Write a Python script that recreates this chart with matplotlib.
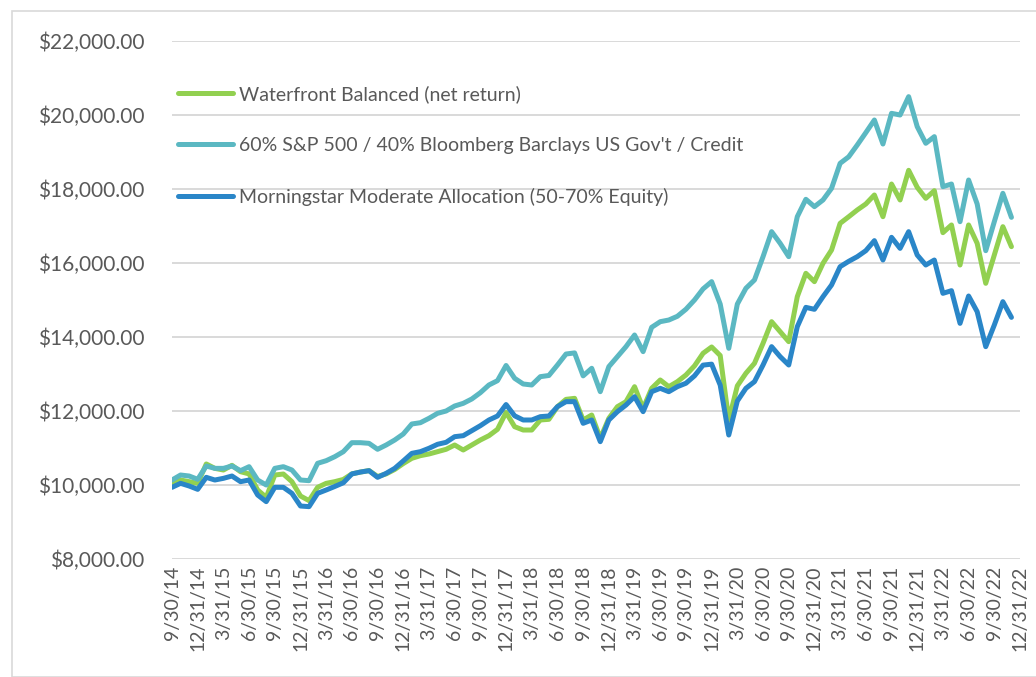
import numpy as np
import matplotlib.pyplot as plt
from matplotlib.patches import Rectangle

# Growth of $10,000, month-end values
waterfront = [
    10050, 10135, 10090, 10045, 10568, 10450, 10405, 10532, 10360, 10300,
    9865, 9667, 10270, 10297, 10090, 9703, 9577, 9937, 10045, 10090,
    10150, 10300, 10350, 10390, 10230, 10300, 10420, 10580, 10721, 10793,
    10838, 10901, 10965, 11081, 10946, 11081, 11216, 11333, 11505, 11960,
    11576, 11486, 11486, 11757, 11775, 12117, 12315, 12342, 11757, 11892,
    11262, 11802, 12117, 12252, 12657, 12072, 12613, 12838, 12657, 12793,
    12973, 13220, 13560, 13730, 13500, 11750, 12680, 13019, 13289, 13829,
    14414, 14144, 13874, 15090, 15721, 15496, 15991, 16351, 17072, 17250,
    17433, 17595, 17838, 17252, 18135, 17703, 18505, 18045, 17748, 17955,
    16820, 17028, 15946, 17028, 16532, 15451, 16216, 16982, 16442,
]
sixty_forty = [
    10135, 10270, 10243, 10154, 10513, 10450, 10450, 10513, 10387, 10495,
    10135, 10000, 10450, 10495, 10405, 10135, 10117, 10586, 10657, 10765,
    10900, 11144, 11144, 11126, 10965, 11081, 11216, 11378, 11649, 11684,
    11802, 11937, 12000, 12135, 12207, 12325, 12495, 12703, 12820, 13230,
    12884, 12730, 12703, 12928, 12960, 13243, 13540, 13570, 12950, 13154,
    12522, 13199, 13469, 13739, 14054, 13604, 14262, 14414, 14459, 14560,
    14750, 15000, 15300, 15496, 14890, 13694, 14890, 15316, 15541, 16171,
    16847, 16532, 16171, 17252, 17722, 17523, 17703, 18018, 18694, 18870,
    19189, 19523, 19865, 19216, 20045, 20000, 20496, 19685, 19235, 19415,
    18063, 18135, 17117, 18243, 17595, 16333, 17117, 17883, 17234,
]
morningstar = [
    9937, 10045, 9973, 9883, 10207, 10135, 10180, 10243, 10090, 10135,
    9730, 9550, 9937, 9937, 9775, 9432, 9415, 9775, 9865, 9960,
    10060, 10300, 10350, 10387, 10207, 10315, 10450, 10650, 10856, 10901,
    10992, 11100, 11154, 11306, 11333, 11468, 11603, 11757, 11865, 12175,
    11870, 11757, 11757, 11847, 11865, 12117, 12252, 12252, 11667, 11757,
    11171, 11757, 11982, 12162, 12387, 11982, 12522, 12613, 12522, 12657,
    12750, 12950, 13240, 13266, 12700, 11351, 12270, 12613, 12793, 13243,
    13739, 13469, 13243, 14279, 14801, 14748, 15090, 15406, 15901, 16045,
    16171, 16333, 16604, 16081, 16694, 16396, 16847, 16216, 15946, 16081,
    15180, 15252, 14369, 15108, 14684, 13739, 14324, 14955, 14531,
]

# Quarter-end labels shown on the category axis (every 3rd month)
quarter_labels = [
    "9/30/14", "12/31/14", "3/31/15", "6/30/15", "9/30/15", "12/31/15",
    "3/31/16", "6/30/16", "9/30/16", "12/31/16", "3/31/17", "6/30/17",
    "9/30/17", "12/31/17", "3/31/18", "6/30/18", "9/30/18", "12/31/18",
    "3/31/19", "6/30/19", "9/30/19", "12/31/19", "3/31/20", "6/30/20",
    "9/30/20", "12/31/20", "3/31/21", "6/30/21", "9/30/21", "12/31/21",
    "3/31/22", "6/30/22", "9/30/22", "12/31/22",
]
n_months = 3 * (len(quarter_labels) - 1) + 1

series_names = [
    "Waterfront Balanced (net return)",
    "60% S&P 500 / 40% Bloomberg Barclays US Gov't / Credit",
    "Morningstar Moderate Allocation (50-70% Equity)",
]
colors = ["#92D050", "#5BB8C2", "#2A86C8"]
text_color = "#595959"

plt.rcParams["font.family"] = ["Lato", "DejaVu Sans"]

fig = plt.figure(figsize=(10.36, 6.77), dpi=100)
ax = fig.add_axes([172 / 1036, 1 - 559 / 677, 848 / 1036, 518 / 677])

# outer chart border like the Excel chart area
fig.patches.append(Rectangle((12 / 1036, 0), 1.2, 1 - 11 / 677, transform=fig.transFigure,
                             fill=False, edgecolor="#D9D9D9", linewidth=1.2))

for vals, name, c in zip([waterfront, sixty_forty, morningstar], series_names, colors):
    ax.plot(np.arange(len(vals)), vals, color=c, linewidth=3.6, label=name,
            solid_joinstyle="round", solid_capstyle="round")

ax.set_xlim(0, n_months - 1)
ax.set_ylim(8000, 22000)
ax.set_yticks(np.arange(8000, 22001, 2000))
ax.yaxis.set_major_formatter(plt.FuncFormatter(lambda v, p: "${:,.2f}".format(v)))
ax.set_xticks(np.arange(0, n_months, 3))
ax.set_xticklabels(quarter_labels, rotation=90, va="top", ha="center")

ax.grid(axis="y", color="#D9D9D9", linewidth=1.4)
ax.set_axisbelow(True)
for s in ax.spines.values():
    s.set_visible(False)
ax.tick_params(axis="both", length=0, colors=text_color, labelsize=14)
ax.tick_params(axis="y", pad=20, labelsize=15)
ax.tick_params(axis="x", pad=5)

leg = ax.legend(loc="upper left", bbox_to_anchor=(0.007, 0.915), frameon=False,
                fontsize=14, handlelength=2.85, handletextpad=0.3, labelspacing=1.75,
                borderpad=0, borderaxespad=0)
for t in leg.get_texts():
    t.set_color(text_color)

fig.savefig("out.png", dpi=100)
